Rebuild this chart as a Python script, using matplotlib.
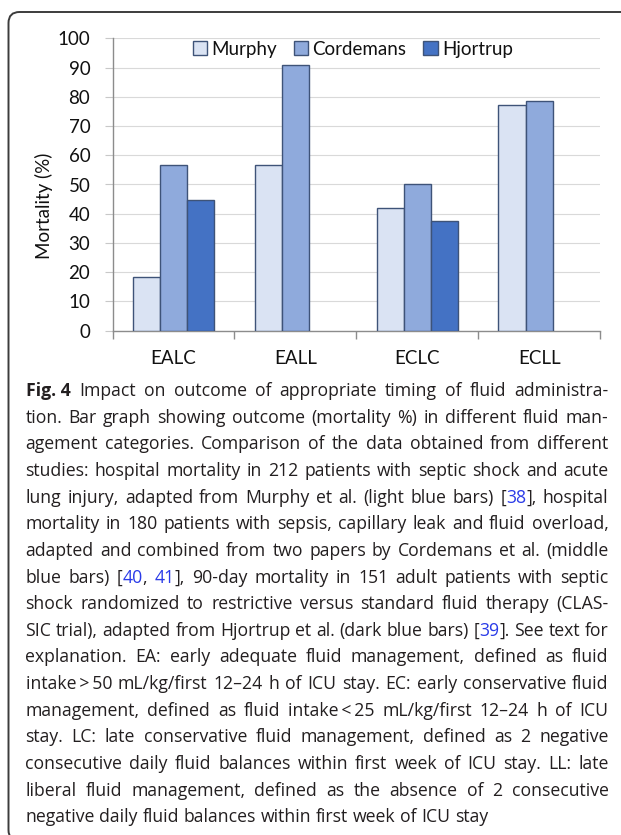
# fig4_mortality.py
# Grouped bar chart (mortality % by fluid management category) + justified figure caption

import numpy as np
import matplotlib
matplotlib.use("Agg")
import matplotlib.pyplot as plt
from matplotlib.patches import FancyBboxPatch
from matplotlib.transforms import IdentityTransform

W, H = 621, 835

# ---------- data ----------
categories = ["EALC", "EALL", "ECLC", "ECLL"]
studies = ["Murphy", "Cordemans", "Hjortrup"]
murphy = [18.2, 56.6, 41.8, 77.1]
cordemans = [56.6, 90.7, 50.0, 78.7]
hjortrup = [44.7, np.nan, 37.4, np.nan]
yticks = list(range(0, 101, 10))
ylabel = "Mortality (%)"

# caption text, {..} marks the blue reference numbers
caption_lead = "Fig. 4"
caption_lines = [
    "Impact on outcome of appropriate timing of fluid administra-",
    "tion. Bar graph showing outcome (mortality %) in different fluid man-",
    "agement categories. Comparison of the data obtained from different",
    "studies: hospital mortality in 212 patients with septic shock and acute",
    "lung injury, adapted from Murphy et al. (light blue bars) [{38}], hospital",
    "mortality in 180 patients with sepsis, capillary leak and fluid overload,",
    "adapted and combined from two papers by Cordemans et al. (middle",
    "blue bars) [{40}, {41}], 90-day mortality in 151 adult patients with septic",
    "shock randomized to restrictive versus standard fluid therapy (CLAS-",
    "SIC trial), adapted from Hjortrup et al. (dark blue bars) [{39}]. See text for",
    "explanation. EA: early adequate fluid management, defined as fluid",
    "intake\u2009>\u200950 mL/kg/first 12\u201324 h of ICU stay. EC: early conservative fluid",
    "management, defined as fluid intake\u2009<\u200925 mL/kg/first 12\u201324 h of ICU",
    "stay. LC: late conservative fluid management, defined as 2 negative",
    "consecutive daily fluid balances within first week of ICU stay. LL: late",
    "liberal fluid management, defined as the absence of 2 consecutive",
    "negative daily fluid balances within first week of ICU stay",
]

# ---------- style ----------
BAR_COLORS = ["#DAE3F3", "#8FAADC", "#4472C4"]
BAR_EDGE = "#3E5378"
GRID_C = "#D9D9D9"
AXIS_C = "#8C8C8C"
CHART_FONT = ["Lato", "DejaVu Sans"]
CAP_FONT = ["Open Sans", "DejaVu Sans"]
TEXT_C = "#231F20"
LINK_C = "#2A3BE8"
FS = 13.5

plt.rcParams["font.family"] = CHART_FONT

fig = plt.figure(figsize=(W / 100, H / 100), dpi=100)

# outer rounded frame (right and bottom run off the page)
frame = FancyBboxPatch((8.5, -6), 700, H - 12 + 6,
                       boxstyle="round,pad=0,rounding_size=11",
                       facecolor="none", edgecolor="#3C3C3C", linewidth=1.4,
                       transform=IdentityTransform())
fig.add_artist(frame)

# ---------- chart ----------
ax_l, ax_r, ax_t, ax_b = 112.5, 600.0, 38.3, 330.7
ax = fig.add_axes([ax_l / W, 1 - ax_b / H, (ax_r - ax_l) / W, (ax_b - ax_t) / H])

x = np.arange(len(categories))
bw = 0.222
for i, (vals, col, lab) in enumerate(zip([murphy, cordemans, hjortrup], BAR_COLORS, studies)):
    vals = np.array(vals, dtype=float)
    ok = np.isfinite(vals)
    ax.bar(x[ok] + (i - 1) * bw, vals[ok], bw, color=col, edgecolor=BAR_EDGE,
           linewidth=1.0, label=lab, zorder=3)

ax.set_xlim(-0.5, len(categories) - 0.5)
ax.set_ylim(0, 100)
ax.set_yticks(yticks)
ax.set_xticks(x, categories)
ax.set_xticks(np.arange(len(categories) + 1) - 0.5, minor=True)
ax.yaxis.grid(True, color=GRID_C, linewidth=0.8, zorder=0)
ax.set_axisbelow(True)

for s in ["top", "right"]:
    ax.spines[s].set_visible(False)
for s in ["left", "bottom"]:
    ax.spines[s].set_color(AXIS_C)
    ax.spines[s].set_linewidth(1.0)

ax.tick_params(axis="x", which="major", length=0, pad=14, labelsize=FS, labelcolor="#111111")
ax.tick_params(axis="x", which="minor", length=6, color=AXIS_C, width=1.0)
ax.tick_params(axis="y", length=6, color="#C8C8C8", width=0.8, pad=10,
               labelsize=FS, labelcolor="#111111")

ax.set_ylabel(ylabel, fontsize=FS, color="#111111")
ax.yaxis.set_label_coords(-0.122, 0.426)

ax.legend(loc="center", bbox_to_anchor=(0.493, 0.963), ncol=3, frameon=False,
          fontsize=FS, handlelength=0.75, handleheight=0.75,
          handletextpad=0.25, columnspacing=0.9, borderaxespad=0,
          labelcolor="#111111")

# ---------- caption (justified) ----------
renderer = fig.canvas.get_renderer()
CAP_X0, CAP_X1 = 25.5, 608.5
BASE0, LEAD = 396.0, 26.65


def parse_word(w):
    segs, buf, i = [], "", 0
    while i < len(w):
        if w[i] == "{":
            j = w.index("}", i)
            if buf:
                segs.append((buf, TEXT_C))
                buf = ""
            segs.append((w[i + 1:j], LINK_C))
            i = j + 1
        else:
            buf += w[i]
            i += 1
    if buf:
        segs.append((buf, TEXT_C))
    return segs


def make_word(segs, size, weight="normal"):
    objs = []
    for s, c in segs:
        t = fig.text(0, 0, s, fontsize=size, color=c, fontweight=weight,
                     family=CAP_FONT, ha="left", va="baseline",
                     transform=IdentityTransform())
        objs.append((t, t.get_window_extent(renderer).width))
    return objs


def text_width(s, size, weight="normal"):
    t = fig.text(0, 0, s, fontsize=size, family=CAP_FONT, fontweight=weight,
                 transform=IdentityTransform())
    w = t.get_window_extent(renderer).width
    t.remove()
    return w


def natural(line, sz, extra=0.0):
    words = line.split(" ")
    sp = text_width("n n", sz) - text_width("nn", sz)
    return sum(text_width(w.replace("{", "").replace("}", ""), sz) for w in words) \
        + sp * (len(words) - 1) + extra


# pick a size so the widest line still fits with normal word spacing
size = 14.0
lead_w = text_width(caption_lead, size, "bold") + 9
widest = max(natural(caption_lines[0], size, lead_w),
             max(natural(l, size) for l in caption_lines[1:]))
if widest > CAP_X1 - CAP_X0:
    size *= (CAP_X1 - CAP_X0) / widest

space_w = text_width("n n", size) - text_width("nn", size)

for k, line in enumerate(caption_lines):
    y = H - (BASE0 + k * LEAD)
    words = [make_word(parse_word(w), size) for w in line.split(" ")]
    x0 = CAP_X0
    if k == 0:
        lead = make_word([(caption_lead, TEXT_C)], size, "bold")
        lead[0][0].set_position((x0, y))
        x0 += lead[0][1] + 9
    total = sum(sum(wd for _, wd in wobj) for wobj in words)
    last = k == len(caption_lines) - 1
    gap = space_w if last or len(words) < 2 else (CAP_X1 - x0 - total) / (len(words) - 1)
    xp = x0
    for wobj in words:
        for t, wd in wobj:
            t.set_position((xp, y))
            xp += wd
        xp += gap

fig.savefig("out.png", dpi=100)
